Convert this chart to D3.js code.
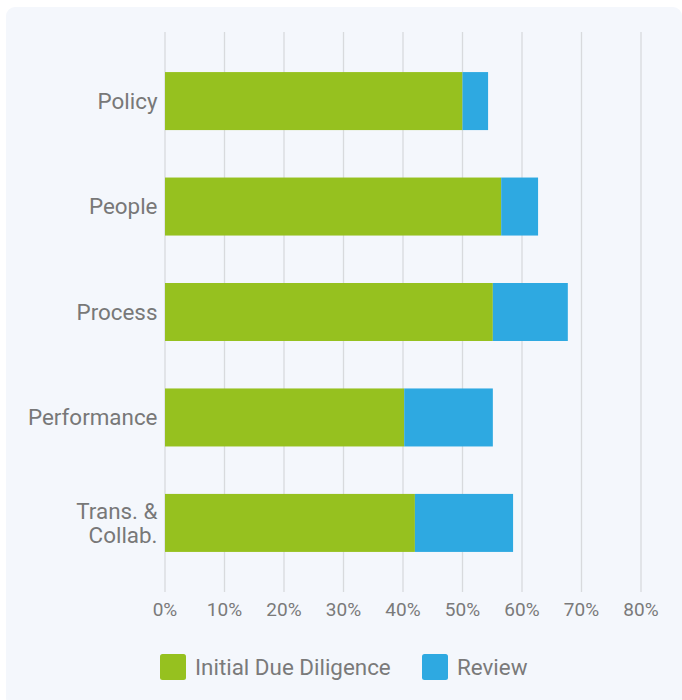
<!DOCTYPE html>
<html>
<head>
<meta charset="utf-8">
<script src="https://cdn.jsdelivr.net/npm/d3@7"></script>
<style>
  html, body { margin: 0; padding: 0; background: #ffffff; }
  svg { display: block; font-family: Roboto, "Noto Sans", sans-serif; }
</style>
</head>
<body>
<svg id="chart" width="682" height="700"></svg>
<script>
// Categories (top to bottom), with multi-line labels
const categories = ["Policy", "People", "Process", "Performance", "Trans. & Collab."];
const categoryLines = [["Policy"], ["People"], ["Process"], ["Performance"], ["Trans. &", "Collab."]];
// Stacked segments, in percent
const initialDueDiligence = [50.0, 56.5, 55.1, 40.2, 42.0];
const review = [4.3, 6.2, 12.6, 14.9, 16.5];
const seriesNames = ["Initial Due Diligence", "Review"];
const seriesColors = ["#96c11f", "#2ea9e1"];
const tickValues = [0, 10, 20, 30, 40, 50, 60, 70, 80];

const svg = d3.select("#chart");

// Panel background
svg.append("rect")
  .attr("x", 6).attr("y", 7).attr("width", 676).attr("height", 700)
  .attr("rx", 9).attr("fill", "#f4f7fc");

const x = d3.scaleLinear().domain([0, 80]).range([165, 641]);
const y = d3.scaleBand().domain(categories).range([32, 592])
  .paddingInner(0.45).paddingOuter(0.38);

// Vertical gridlines
svg.append("g").selectAll("line").data(tickValues).join("line")
  .attr("x1", d => x(d)).attr("x2", d => x(d))
  .attr("y1", 32).attr("y2", 592)
  .attr("stroke", "#d8dadd").attr("stroke-width", 1.3);

// Stacked bars
const rows = categories.map((c, i) => ({ cat: c, a: initialDueDiligence[i], b: review[i] }));
const stack = d3.stack().keys(["a", "b"])(rows);
svg.append("g").selectAll("g").data(stack).join("g")
  .attr("fill", (d, i) => seriesColors[i])
  .selectAll("rect").data(d => d).join("rect")
  .attr("x", d => x(d[0]))
  .attr("width", d => x(d[1]) - x(d[0]))
  .attr("y", d => y(d.data.cat))
  .attr("height", y.bandwidth());

// Category labels (one text element per line)
const catG = svg.append("g");
categories.forEach((c, i) => {
  const lines = categoryLines[i];
  const cy = y(c) + y.bandwidth() / 2;
  const lh = 24;
  lines.forEach((ln, j) => {
    catG.append("text")
      .attr("text-anchor", "end")
      .attr("fill", "#787878")
      .attr("font-size", 22.4)
      .attr("x", 157.5)
      .attr("y", cy + (j - (lines.length - 1) / 2) * lh)
      .attr("dy", "0.35em")
      .text(ln);
  });
});

// X axis tick labels
svg.append("g").selectAll("text").data(tickValues).join("text")
  .attr("x", d => x(d)).attr("y", 609).attr("dy", "0.35em")
  .attr("text-anchor", "middle")
  .attr("fill", "#7a7a7a").attr("font-size", 19)
  .text(d => d + "%");

// Legend
const legendX = [160, 422];
const lg = svg.append("g").selectAll("g").data(seriesNames).join("g")
  .attr("transform", (d, i) => `translate(${legendX[i]},654)`);
lg.append("rect").attr("width", 26).attr("height", 26).attr("rx", 2.5)
  .attr("fill", (d, i) => seriesColors[i]);
lg.append("text").attr("x", 35).attr("y", 13).attr("dy", "0.35em")
  .attr("fill", "#7a7a7a").attr("font-size", 22.4)
  .text(d => d);
</script>
</body>
</html>
